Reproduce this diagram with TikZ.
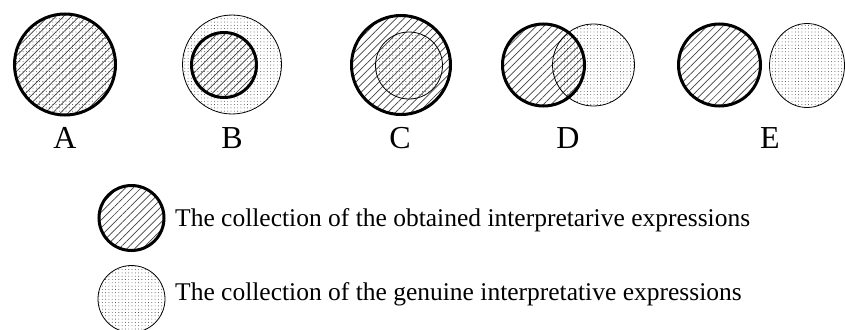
\documentclass[tikz,border=0pt]{standalone}
\usepackage{fontspec}
\setmainfont{Liberation Serif}
\usetikzlibrary{patterns.meta}
\tikzset{
obtained/.style={
line width=3pt,
pattern={Lines[angle=45,distance=5.5pt,line width=0.7pt]},
pattern color=black!75
},
genuine/.style={
line width=0.8pt,
pattern={Dots[radius=0.45pt,distance=3.3pt]},
pattern color=black!80
},
caselabel/.style={
anchor=base,
inner sep=0pt,
font=\fontsize{32}{32}\selectfont
},
legendtext/.style={
anchor=base west,
inner sep=0pt,
font=\fontsize{25.5}{30}\selectfont
}
}

\begin{document}
\begin{tikzpicture}[x=1pt,y=-1pt]
\useasboundingbox (0,0) rectangle (845,329);

% A: both collections coincide
\fill[genuine] (65,64.5) circle[radius=50.5];
\draw[obtained] (65,64.5) circle[radius=50.5];
\node[caselabel] (la) at (65,148) {A};

% B: obtained inside genuine
\draw[genuine] (232,64.5) circle[radius=49.5];
\draw[obtained] (224,65) circle[radius=32.5];
\node[caselabel] (lb) at (232,148) {B};

% C: genuine inside obtained
\fill[genuine] (409,65.5) circle[radius=33.5];
\draw[obtained] (401,65) circle[radius=49.5];
\draw[line width=0.8pt] (409,65.5) circle[radius=33.5];
\node[caselabel] (lc) at (400,148) {C};

% D: overlapping
\fill[genuine] (593.5,65) circle[radius=41];
\fill[obtained] (543.5,65) circle[radius=41];
\draw[line width=0.8pt] (593.5,65) circle[radius=41];
\draw[line width=3pt] (543.5,65) circle[radius=41];
\node[caselabel] (ld) at (568,148) {D};

% E: disjoint
\draw[obtained] (719.5,65) circle[radius=41];
\draw[genuine] (807,65.5) ellipse[x radius=37.5,y radius=42];
\node[caselabel] (le) at (770,148) {E};

% legend
\draw[obtained] (131.5,218) circle[radius=32.5];
\node[legendtext] (tobt) at (175,226) {The collection of the obtained interpretarive expressions};
\draw[genuine] (131.5,299) circle[radius=33.5];
\node[legendtext] (tgen) at (175,300) {The collection of the genuine interpretative expressions};

\end{tikzpicture}
\end{document}
